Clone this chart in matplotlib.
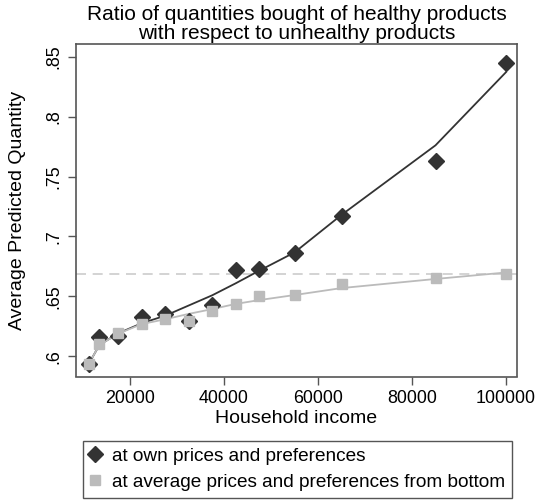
import matplotlib
matplotlib.use("Agg")
import matplotlib.pyplot as plt

plt.rcParams['font.family'] = ['Liberation Sans', 'DejaVu Sans']

# household income groups
income = [11250, 13500, 17500, 22500, 27500, 32500, 37500, 42500, 47500,
          55000, 65000, 85000, 100000]

# at own prices and preferences
own_pts = [0.5935, 0.616, 0.617, 0.633, 0.635, 0.6296, 0.643, 0.672, 0.6727,
           0.6865, 0.7173, 0.763, 0.8443]
own_fit = [0.594, 0.6096, 0.6193, 0.6277, 0.634, 0.6425, 0.651, 0.661, 0.6715,
           0.6867, 0.718, 0.776, 0.837]

# at average prices and preferences from bottom
avg_pts = [0.5935, 0.6104, 0.6198, 0.627, 0.6313, 0.6296, 0.638, 0.6438,
           0.6504, 0.6513, 0.6604, 0.6654, 0.6688]
avg_fit = [0.594, 0.6096, 0.619, 0.627, 0.631, 0.6355, 0.6395, 0.6438, 0.647,
           0.6512, 0.657, 0.6646, 0.670]

xticks = [20000, 40000, 60000, 80000, 100000]
yticks = [0.6, 0.65, 0.7, 0.75, 0.8, 0.85]
ytick_labels = ['.6', '.65', '.7', '.75', '.8', '.85']

dark = '#333333'
light = '#bbbbbb'
frame = '#555555'

fig = plt.figure(figsize=(5.35, 5.04), dpi=100)
ax = fig.add_axes([75.7 / 535, 1 - 376.5 / 504, (517.3 - 75.7) / 535, (376.5 - 44.3) / 504])

ax.axhline(avg_pts[-1], color='#cccccc', lw=1.2, ls=(0, (6, 4)), zorder=1)
ax.plot(income, own_fit, color=dark, lw=1.3, zorder=2)
ax.plot(income, avg_fit, color=light, lw=1.3, zorder=2)
ax.plot(income, own_pts, 'D', color=dark, ms=8, ls='none', zorder=3,
        label='at own prices and preferences')
ax.plot(income, avg_pts, 's', color=light, ms=7, ls='none', zorder=4,
        label='at average prices and preferences from bottom')

ax.set_xlim(8450, 102400)
ax.set_ylim(0.5833, 0.8602)
ax.set_xticks(xticks)
ax.set_xticklabels([str(t) for t in xticks])
ax.set_yticks(yticks)
ax.set_yticklabels(ytick_labels, rotation=90, va='center')
ax.tick_params(labelsize=12.9, length=6, color=frame, width=1)
for s in ax.spines.values():
    s.set_color(frame)
    s.set_linewidth(1.2)

ax.set_xlabel('Household income', fontsize=14, va='center')
ax.xaxis.set_label_coords(0.5, (376.5 - 418.6) / 332.2)
ax.set_ylabel('Average Predicted Quantity', fontsize=14, va='center')
ax.yaxis.set_label_coords((18 - 75.7) / 441.6, 0.5)
ax.set_title('Ratio of quantities bought of healthy products\nwith respect to unhealthy products',
             fontsize=15, linespacing=1.0, pad=4)

fig.legend(loc='upper left', bbox_to_anchor=(82.6 / 535, 1 - 440.7 / 504),
           borderaxespad=0, fancybox=False, edgecolor=frame, framealpha=1,
           fontsize=13.7, handlelength=0.6, handletextpad=0.6, borderpad=0.35,
           labelspacing=0.47)

fig.savefig('out.png', dpi=100)
